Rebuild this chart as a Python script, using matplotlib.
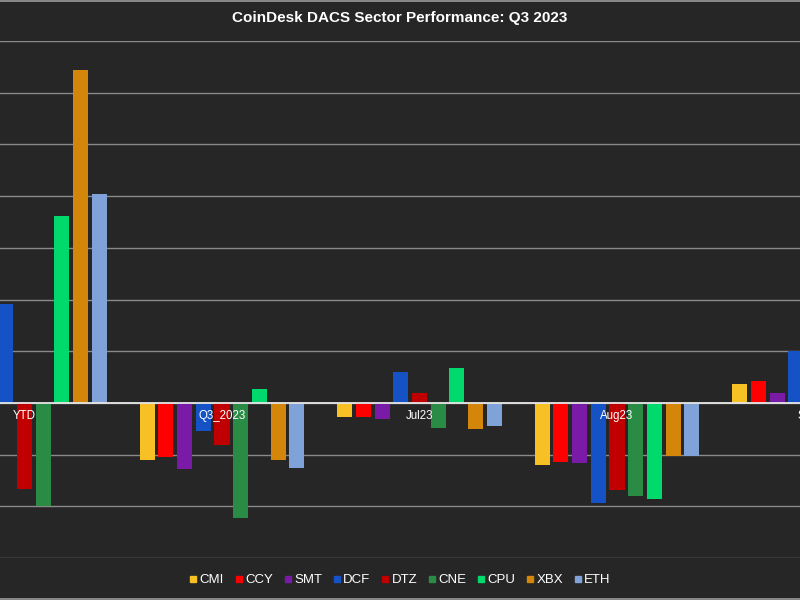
import matplotlib
matplotlib.use("Agg")
import matplotlib.pyplot as plt
import numpy as np
from matplotlib.lines import Line2D

title = "CoinDesk DACS Sector Performance: Q3 2023"
groups = ["YTD", "Q3_2023", "Jul23", "Aug23", "Sep23"]
sectors = ["CMI", "CCY", "SMT", "DCF", "DTZ", "CNE", "CPU", "XBX", "ETH"]
colors = ["#F7C125", "#FF0000", "#7A1BA8", "#1452C6", "#C00000",
          "#2A8B45", "#00D96B", "#D4860B", "#7FA3D8"]

# values per sector across groups (fraction)
CMI = [0.22, -0.110, -0.028, -0.120, 0.037]
CCY = [0.15, -0.105, -0.028, -0.115, 0.043]
SMT = [0.12, -0.128, -0.031, -0.117, 0.019]
DCF = [0.192, -0.055, 0.060, -0.193, 0.100]
DTZ = [-0.166, -0.081, 0.019, -0.168, 0.02]
CNE = [-0.200, -0.222, -0.049, -0.180, -0.03]
CPU = [0.361, 0.027, 0.068, -0.185, 0.05]
XBX = [0.643, -0.110, -0.051, -0.102, 0.04]
ETH = [0.405, -0.126, -0.044, -0.102, -0.03]
series = [CMI, CCY, SMT, DCF, DTZ, CNE, CPU, XBX, ETH]

bg = "#262626"
fig = plt.figure(figsize=(8, 6), dpi=100, facecolor=bg)
ax = fig.add_axes([0, 42/600, 1, 517/600], facecolor=bg)

x = np.arange(len(groups))
step = 0.0949
width = 0.076
for j, (name, vals, c) in enumerate(zip(sectors, series, colors)):
    ax.bar(x + (j - 4) * step, vals, width=width, color=c, label=name, zorder=2)

ax.set_xlim(-24.5/197.5, 775.5/197.5)
ax.set_ylim(-0.3, 0.7)
ax.set_yticks(np.round(np.arange(-0.3, 0.71, 0.1), 2))
ax.set_yticklabels([])
ax.set_xticks([])
ax.tick_params(length=0)
ax.grid(axis="y", color="#8a8a8a", linewidth=1.0, zorder=0)
ax.set_axisbelow(True)
for s in ax.spines.values():
    s.set_visible(False)
ax.axhline(0, color="#e6e6e6", linewidth=1.3, zorder=3)

for xi, g in zip(x, groups):
    ax.annotate(g, (xi, 0), xytext=(0, -5), textcoords="offset points",
                ha="center", va="top", color="white", fontsize=8.3,
                family="Liberation Sans", zorder=5, annotation_clip=False)

fig.text(0.5, 1 - 18/600, title, ha="center", va="center", color="white",
         fontsize=11, fontweight="bold", family="Liberation Sans")

handles = [Line2D([], [], marker="s", linestyle="none", markersize=5,
                  markerfacecolor=c, markeredgecolor=c) for c in colors]
fig.legend(handles, sectors, loc="center", bbox_to_anchor=(0.5, 1 - 580/600),
           ncol=9, frameon=False, handletextpad=0.2,
           columnspacing=0.8, handlelength=0.6,
           labelcolor="white", prop={"family": "Liberation Sans", "size": 9.5})

fig.add_artist(Line2D([0, 1], [0.999, 0.999], color="#9a9a9a", linewidth=1.2,
                      transform=fig.transFigure))
fig.add_artist(Line2D([0, 1], [0.001, 0.001], color="#9a9a9a", linewidth=1.2,
                      transform=fig.transFigure))

fig.savefig("out.png", dpi=100, facecolor=bg)
